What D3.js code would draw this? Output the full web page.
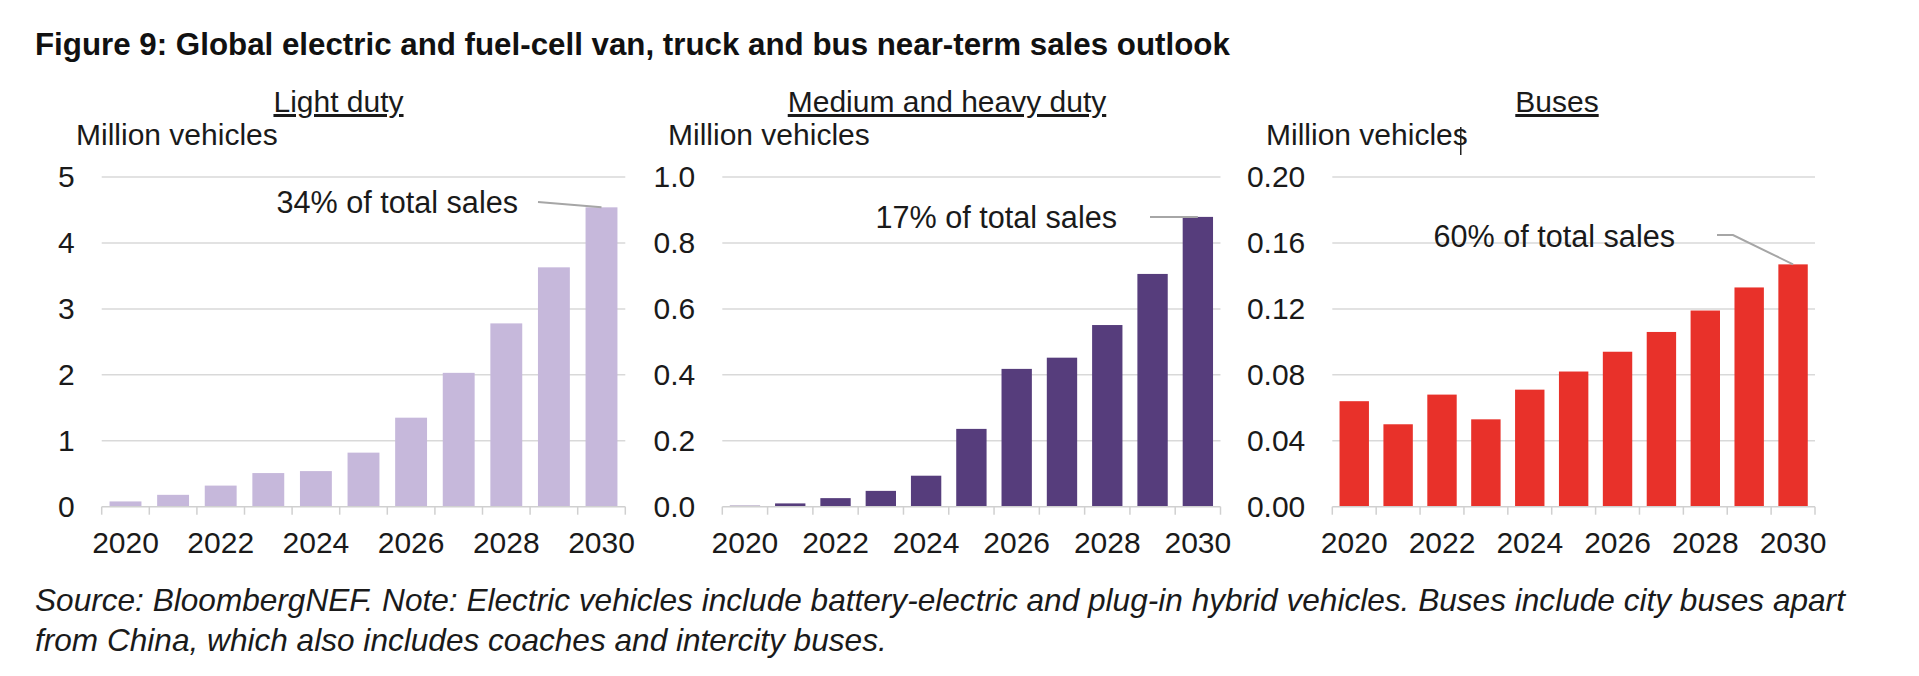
<!DOCTYPE html>
<html>
<head>
<meta charset="utf-8">
<script src="https://cdnjs.cloudflare.com/ajax/libs/d3/7.8.5/d3.min.js"></script>
<style>
    body { margin: 0; background: #fff; }
    svg text { font-family: "Liberation Sans", Arial, sans-serif; fill: #1a1a1a; }
</style>
</head>
<body>
<svg id="chart" width="1919" height="676"></svg>
<script>
'use strict';

// data
var years = [2020, 2021, 2022, 2023, 2024, 2025, 2026, 2027, 2028, 2029, 2030];
var yearLabels = [2020, 2022, 2024, 2026, 2028, 2030];

var lightDuty   = [0.08, 0.18, 0.32, 0.51, 0.54, 0.82, 1.35, 2.03, 2.78, 3.63, 4.54];
var mediumHeavy = [0.003, 0.010, 0.026, 0.048, 0.094, 0.236, 0.418, 0.452, 0.551, 0.706, 0.879];
var buses       = [0.064, 0.050, 0.068, 0.053, 0.071, 0.082, 0.094, 0.106, 0.119, 0.133, 0.147];

var lightTicks  = [0, 1, 2, 3, 4, 5];
var mediumTicks = [0, 0.2, 0.4, 0.6, 0.8, 1.0];
var busTicks    = [0, 0.04, 0.08, 0.12, 0.16, 0.20];

var panelTitles = ['Light duty', 'Medium and heavy duty', 'Buses'];
var shareLabels = ['34% of total sales', '17% of total sales', '60% of total sales'];

var titleText = 'Figure 9: Global electric and fuel-cell van, truck and bus near-term sales outlook';
var sourceLines = [
    'Source: BloombergNEF. Note: Electric vehicles include battery-electric and plug-in hybrid vehicles. Buses include city buses apart',
    'from China, which also includes coaches and intercity buses.'
];

var svg = d3.select('#chart');
var baseY = 506.7, topY = 177;
var gridColor = '#d9d9d9';

var panels = [
    { values: lightDuty, ticks: lightTicks, fmt: d3.format('d'), color: '#c6b8db',
      left: 101.7, right: 625.3, titleX: 338.5, unitX: 76,
      note: { x: 518, y: 213, path: [[538, 202]] } },
    { values: mediumHeavy, ticks: mediumTicks, fmt: d3.format('.1f'), color: '#563d7c',
      left: 722.3, right: 1220.5, titleX: 947, unitX: 668,
      note: { x: 1117, y: 228, path: [[1150, 217]] } },
    { values: buses, ticks: busTicks, fmt: d3.format('.2f'), color: '#e8312a',
      left: 1332.3, right: 1815, titleX: 1557, unitX: 1266,
      note: { x: 1675, y: 246.7, path: [[1717, 235], [1733, 235]] } }
];

svg.append('text')
    .attr('x', 35)
    .attr('y', 55)
    .style('font-size', '31.3px')
    .style('font-weight', 'bold')
    .style('fill', '#111')
    .text(titleText);

function drawPanel(p, i){
    var g = svg.append('g').attr('class', 'panel');

    var x = d3.scaleBand()
        .domain(years)
        .range([p.left, p.right])
        .paddingInner(0.33)
        .paddingOuter(0.165);

    var y = d3.scaleLinear()
        .domain([0, d3.max(p.ticks)])
        .range([baseY, topY]);

    // gridlines
    g.selectAll('.grid')
        .data(p.ticks.filter(function(t){ return t > 0; }))
        .enter().append('line')
        .attr('x1', p.left)
        .attr('x2', p.right)
        .attr('y1', function(d){ return y(d); })
        .attr('y2', function(d){ return y(d); })
        .style('stroke', gridColor)
        .style('stroke-width', 1.5);

    // y labels
    var yAxis = g.append('g')
        .attr('transform', 'translate(' + p.left + ',0)')
        .call(d3.axisLeft(y).tickValues(p.ticks).tickFormat(p.fmt).tickSize(0).tickPadding(27));
    yAxis.select('.domain').remove();
    yAxis.selectAll('text').style('font-size', '30px').style('font-family', null);

    // bars
    g.selectAll('.bar')
        .data(p.values)
        .enter().append('rect')
        .attr('x', function(d, k){ return x(years[k]); })
        .attr('y', function(d){ return y(d); })
        .attr('width', x.bandwidth())
        .attr('height', function(d){ return baseY - y(d); })
        .style('fill', p.color);

    // x axis line + boundary ticks
    var gap = (x.step() - x.bandwidth()) / 2;
    var edges = years.map(function(yr){ return x(yr) - gap; }).concat([p.right]);
    g.append('line')
        .attr('x1', p.left).attr('x2', p.right)
        .attr('y1', baseY).attr('y2', baseY)
        .style('stroke', '#d0d0d0').style('stroke-width', 1.5);
    g.selectAll('.edge')
        .data(edges)
        .enter().append('line')
        .attr('x1', function(d){ return d; })
        .attr('x2', function(d){ return d; })
        .attr('y1', baseY)
        .attr('y2', baseY + 8)
        .style('stroke', '#d0d0d0').style('stroke-width', 1.5);

    var xAxis = g.append('g')
        .attr('transform', 'translate(0,' + baseY + ')')
        .call(d3.axisBottom(x).tickValues(yearLabels).tickSize(0).tickPadding(25));
    xAxis.select('.domain').remove();
    xAxis.selectAll('text').style('font-size', '30px').style('font-family', null);

    // panel title, underlined
    g.append('text')
        .attr('x', p.titleX)
        .attr('y', 112)
        .attr('text-anchor', 'middle')
        .style('font-size', '30px')
        .style('text-decoration', 'underline')
        .text(panelTitles[i]);

    var unit = g.append('text')
        .attr('x', p.unitX)
        .attr('y', 145)
        .style('font-size', '30px')
        .text('Million vehicles');

    // share annotation + leader to the 2030 bar
    var last = years.length - 1;
    g.append('text')
        .attr('x', p.note.x)
        .attr('y', p.note.y)
        .attr('text-anchor', 'end')
        .style('font-size', '30.6px')
        .text(shareLabels[i]);

    var pts = p.note.path.concat([[x(years[last]) + x.bandwidth() / 2, y(p.values[last])]]);
    g.append('path')
        .attr('d', d3.line()(pts))
        .style('fill', 'none')
        .style('stroke', '#a6a6a6')
        .style('stroke-width', 2);

    return unit;
}

var units = panels.map(drawPanel);

// stray text cursor sitting in the last unit label of the original
var bb = units[2].node().getBBox();
svg.append('line')
    .attr('x1', bb.x + bb.width - 7).attr('x2', bb.x + bb.width - 7)
    .attr('y1', 127).attr('y2', 155)
    .style('stroke', '#222').style('stroke-width', 1.5);

svg.selectAll('.source')
    .data(sourceLines)
    .enter().append('text')
    .attr('x', 35)
    .attr('y', function(d, k){ return 611 + k * 40; })
    .style('font-size', '31.6px')
    .style('font-style', 'italic')
    .text(function(d){ return d; });
</script>
</body>
</html>
